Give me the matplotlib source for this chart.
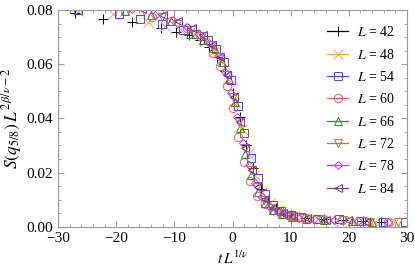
import matplotlib
matplotlib.use("Agg")
import matplotlib.pyplot as plt
from matplotlib.ticker import MultipleLocator
from matplotlib.lines import Line2D

plt.rcParams["font.family"] = "Liberation Serif"
plt.rcParams["mathtext.fontset"] = "stix"

# scaled variable t L^{1/nu} and S(q_{5/8}) L^{2 beta/nu - 2} for each system size
x42 = [-27.0, -22.2, -17.2, -12.3, -9.8, -7.5, -5.6, -4.0, -2.6, -1.3, 0.0, 1.2, 2.4, 3.6, 4.9, 6.1, 7.4, 8.7, 10.0, 12.5, 15.8, 19.0, 22.5, 25.5]
y42 = [0.0790, 0.0767, 0.0755, 0.0735, 0.0720, 0.0708, 0.0688, 0.0662, 0.0628, 0.0575, 0.0495, 0.0405, 0.0300, 0.0215, 0.0140, 0.0095, 0.0068, 0.0052, 0.0042, 0.0032, 0.0027, 0.0024, 0.0020, 0.0018]

x48 = [-26.5, -20.5, -14.5, -11.6, -8.9, -6.6, -4.7, -3.2, -1.9, -0.7, 0.5, 1.6, 2.7, 3.9, 5.1, 6.4, 7.8, 9.2, 10.8, 13.5, 17.0, 20.5, 24.5, 28.0]
y48 = [0.0798, 0.0784, 0.0757, 0.0740, 0.0728, 0.0710, 0.0685, 0.0650, 0.0612, 0.0545, 0.0462, 0.0360, 0.0268, 0.0190, 0.0128, 0.0088, 0.0062, 0.0047, 0.0038, 0.0030, 0.0026, 0.0022, 0.0019, 0.0017]

x54 = [-26.6, -19.6, -15.9, -12.1, -8.5, -6.2, -4.3, -2.8, -1.5, -0.3, 0.9, 2.0, 3.1, 4.3, 5.5, 6.9, 8.4, 10.0, 11.8, 14.6, 18.3, 22.1, 25.9, 29.7]
y54 = [0.0800, 0.0785, 0.0768, 0.0748, 0.0728, 0.0712, 0.0690, 0.0655, 0.0610, 0.0540, 0.0445, 0.0345, 0.0255, 0.0180, 0.0120, 0.0082, 0.0058, 0.0045, 0.0036, 0.0030, 0.0027, 0.0021, 0.0019, 0.0017]

x60 = [-24.5, -18.5, -13.8, -10.6, -7.9, -5.6, -3.4, -2.2, -1.0, 0.0, 1.0, 2.0, 3.0, 4.2, 5.6, 7.0, 8.6, 10.4, 12.6, 15.6, 18.8, 22.7, 26.8]
y60 = [0.0815, 0.0798, 0.0775, 0.0760, 0.0735, 0.0705, 0.0640, 0.0595, 0.0520, 0.0440, 0.0330, 0.0240, 0.0168, 0.0115, 0.0084, 0.0062, 0.0048, 0.0038, 0.0031, 0.0027, 0.0024, 0.0020, 0.0018]

x66 = [-22.0, -18.5, -14.0, -10.5, -7.3, -5.0, -3.2, -1.8, -0.6, 0.4, 1.3, 2.2, 3.2, 4.3, 5.5, 6.9, 8.5, 10.3, 12.6, 15.8, 20.5, 24.0]
y66 = [0.0815, 0.0797, 0.0780, 0.0760, 0.0712, 0.0690, 0.0660, 0.0610, 0.0545, 0.0460, 0.0365, 0.0270, 0.0190, 0.0128, 0.0088, 0.0062, 0.0047, 0.0036, 0.0029, 0.0025, 0.0022, 0.0019]

x72 = [-21.0, -15.3, -12.2, -9.6, -7.2, -5.2, -3.6, -2.2, -1.0, 0.1, 1.1, 2.1, 3.1, 4.2, 5.4, 6.7, 8.2, 9.9, 12.2, 15.2, 19.0, 23.6, 28.5]
y72 = [0.0820, 0.0796, 0.0774, 0.0748, 0.0728, 0.0705, 0.0670, 0.0625, 0.0560, 0.0480, 0.0385, 0.0290, 0.0210, 0.0145, 0.0098, 0.0068, 0.0050, 0.0040, 0.0031, 0.0026, 0.0023, 0.0019, 0.0017]

x78 = [-17.2, -13.3, -10.3, -7.8, -5.7, -4.0, -2.5, -1.3, -0.2, 0.8, 1.8, 2.8, 3.9, 5.0, 6.3, 7.8, 9.4, 11.4, 14.0, 17.5, 21.5, 26.8]
y78 = [0.0805, 0.0782, 0.0762, 0.0738, 0.0712, 0.0678, 0.0632, 0.0572, 0.0495, 0.0405, 0.0310, 0.0228, 0.0160, 0.0110, 0.0076, 0.0056, 0.0043, 0.0034, 0.0028, 0.0025, 0.0021, 0.0017]

x84 = [-19.5, -15.5, -12.0, -9.3, -7.0, -5.1, -3.5, -2.1, -0.9, 0.2, 1.2, 2.2, 3.3, 4.4, 5.6, 7.0, 8.6, 10.4, 12.8, 16.0, 19.8, 23.0]
y84 = [0.0830, 0.0805, 0.0782, 0.0758, 0.0735, 0.0708, 0.0672, 0.0625, 0.0560, 0.0478, 0.0385, 0.0292, 0.0210, 0.0148, 0.0102, 0.0070, 0.0052, 0.0040, 0.0031, 0.0026, 0.0023, 0.0019]

sizes = [42, 48, 54, 60, 66, 72, 78, 84]
xs = [x42, x48, x54, x60, x66, x72, x78, x84]
ys = [y42, y48, y54, y60, y66, y72, y78, y84]
markers = ["+", "x", "s", "o", "^", "v", "D", "<"]
colors = ["black", "#ffa040", "#4848ff", "#ff5a5a", "#2a8a2a", "#a87c58", "#c840d8", "#8030a8"]
msizes = [7.5, 6.5, 5.5, 6, 6, 6, 4.5, 6]

fig = plt.figure(figsize=(4.15, 2.72), dpi=100)
ax = fig.add_axes([0.1398, 0.1665, 0.841, 0.7965])

for L, x, y, m, c, ms in zip(sizes, xs, ys, markers, colors, msizes):
    ax.plot(x, y, ls="none", marker=m, ms=ms, mew=0.7, mfc="none", mec=c)

ax.set_xlim(-30, 30)
ax.set_ylim(0, 0.08)
ax.xaxis.set_major_locator(MultipleLocator(10))
ax.xaxis.set_minor_locator(MultipleLocator(2))
ax.yaxis.set_major_locator(MultipleLocator(0.02))
ax.yaxis.set_minor_locator(MultipleLocator(0.005))
ax.yaxis.set_major_formatter(plt.FormatStrFormatter("%.2f"))
ax.tick_params(which="both", direction="in", top=True, right=True,
               color="#999999", labelsize=11)
ax.tick_params(which="major", length=4)
ax.tick_params(which="minor", length=2)
for s in ax.spines.values():
    s.set_color("#999999")
    s.set_linewidth(0.8)

ax.set_xlabel(r"$t\,L^{1/\nu}$", fontsize=11, labelpad=4)
ax.set_ylabel(r"$S\left(q_{5/8}\right)\,L^{2\,\beta/\nu-2}$", fontsize=12.5, labelpad=2)

# legend handles drawn with a line through the marker
handles = [Line2D([], [], color=c, lw=0.9, marker=m, ms=ms, mew=0.7, mfc="none", mec=c)
           for m, c, ms in zip(markers, colors, msizes)]
ax.legend(handles, [f"$L$ = {L}" for L in sizes], loc="upper left",
          bbox_to_anchor=(0.772, 0.93), frameon=False, fontsize=10,
          handlelength=1.5, labelspacing=0.6, borderpad=0, borderaxespad=0,
          handletextpad=0.6)

fig.savefig("out.png", dpi=100)
